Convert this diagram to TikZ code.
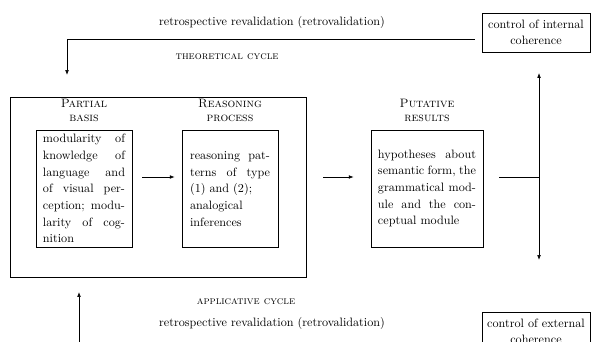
\documentclass[tikz,border=0pt]{standalone}
\usetikzlibrary{arrows.meta}
\newcommand{\jl}[2]{\makebox[#1][s]{#2}}
\begin{document}
\begin{tikzpicture}[x=0.823pt,y=-0.823pt,
  box/.style={draw, line width=0.5pt, minimum height=96.3pt, inner sep=0pt, align=left, font=\fontsize{10}{13.7}\selectfont},
  lbl/.style={align=center, inner sep=0pt, font=\fontsize{10}{11.5}\selectfont},
  ctrl/.style={draw, line width=0.5pt, minimum width=88.9pt, minimum height=32.1pt, align=center, inner sep=0pt, font=\fontsize{10}{13.2}\selectfont},
  cyc/.style={inner sep=0pt, font=\fontsize{9}{11}\selectfont\scshape},
  plain/.style={inner sep=0pt, font=\fontsize{10}{12}\selectfont},
  arr/.style={-{Latex[length=4pt,width=3pt]}, line width=0.5pt},
  ln/.style={line width=0.5pt},
]
\useasboundingbox (0,0) rectangle (591,342);
\clip (0,0) rectangle (591,342);

% outer box
\node[draw, line width=0.5pt, minimum width=243.6pt, minimum height=148.1pt, inner sep=0pt] (outer) at (158,187) {};

% labels
\node[lbl] (l1) at (84,110.5) {\textsc{Partial}\\\textsc{basis}};
\node[lbl] (l2) at (230,110.5) {\textsc{Reasoning}\\\textsc{process}};
\node[lbl] (l3) at (427,110.5) {\textsc{Putative}\\\textsc{results}};

% boxes
\node[box, minimum width=79pt] (b1) at (84,188.5) {%
\jl{67.5pt}{modularity of}\\
\jl{67.5pt}{knowledge of}\\
\jl{67.5pt}{language and}\\
\jl{67.5pt}{of visual per-}\\
\jl{67.5pt}{ception; modu-}\\
\jl{67.5pt}{larity of cog-}\\
\makebox[67.5pt][l]{nition}};

\node[box, minimum width=79pt] (b2) at (230,189) {%
\jl{65.8pt}{reasoning pat-}\\
\jl{65.8pt}{terns of type}\\
\makebox[65.8pt][l]{(1) and (2);}\\
\makebox[65.8pt][l]{analogical}\\
\makebox[65.8pt][l]{inferences}};

\node[box, minimum width=92.2pt] (b3) at (427,188.5) {%
\jl{80.7pt}{hypotheses about}\\
\jl{80.7pt}{semantic form, the}\\
\jl{80.7pt}{grammatical mod-}\\
\jl{80.7pt}{ule and the con-}\\
\makebox[80.7pt][l]{ceptual module}};

% control boxes
\node[ctrl] (ci) at (536,32.5) {control of internal\\coherence};
\node[ctrl] (ce) at (536,331.5) {control of external\\coherence};

% texts
\node[plain] (tt) at (272,22) {retrospective revalidation (retrovalidation)};
\node[cyc] (tc) at (227,57) {theoretical cycle};
\node[cyc] (ac) at (246,302) {applicative cycle};
\node[plain] (bt) at (272,323) {retrospective revalidation (retrovalidation)};

% coordinates
\coordinate (tl) at (67,75);
\coordinate (jn) at (539,177);
\coordinate (upend) at (539,73);
\coordinate (downend) at (539,260);
\coordinate (bl) at (79,292);
\coordinate (bs) at (79,360);

% connectors
\draw[arr] ([shift={(-7,6.5)}]ci.west) -| (tl);
\draw[arr] ([shift={(10,-11.5)}]b1.east) -- ([shift={(-7,-12)}]b2.west);
\draw[arr] ([shift={(17,-10)}]outer.east) -- ([shift={(-17,-11.5)}]b3.west);
\draw[ln] ([shift={(16,-11.5)}]b3.east) -- (jn);
\draw[arr] (jn) -- (upend);
\draw[arr] (jn) -- (downend);
\draw[arr] (bs) -- (bl);
\end{tikzpicture}
\end{document}
